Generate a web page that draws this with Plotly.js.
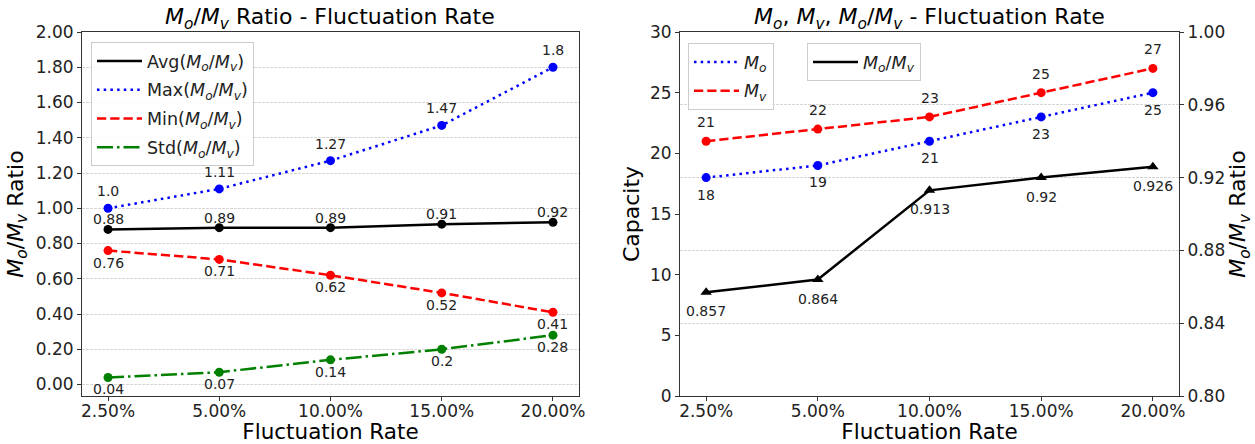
<!DOCTYPE html>
<html>
<head>
<meta charset="utf-8">
<script src="https://cdn.plot.ly/plotly-3.0.1.min.js"></script>
<style>html,body{margin:0;padding:0;background:#fff;}#chart{width:1255px;height:444px;}</style>
</head>
<body>
<div id="chart"></div>
<script>
// ---- data ----
const categories = ['2.50%', '5.00%', '10.00%', '15.00%', '20.00%'];
const avgRatio = [0.88, 0.89, 0.89, 0.91, 0.92];
const maxRatio = [1.0, 1.11, 1.27, 1.47, 1.8];
const minRatio = [0.76, 0.71, 0.62, 0.52, 0.41];
const stdRatio = [0.04, 0.07, 0.14, 0.2, 0.28];
const moCapacity = [18, 19, 21, 23, 25];
const mvCapacity = [21, 22, 23, 25, 27];
const moMvRatio = [0.857, 0.864, 0.913, 0.92, 0.926];
const leftYTicks = [0, 0.2, 0.4, 0.6, 0.8, 1.0, 1.2, 1.4, 1.6, 1.8, 2.0];
const capTicks = [0, 5, 10, 15, 20, 25, 30];
const ratioTicks = [0.80, 0.84, 0.88, 0.92, 0.96, 1.00];

// ---- helpers ----
const FONT = 'DejaVu Sans, Verdana, sans-serif';
const MO = '<i>M<sub>o</sub></i>';
const MV = '<i>M<sub>v</sub></i>';
const RATIO = MO + '/' + MV;
function pyStr(v) { return Number.isInteger(v) ? v.toFixed(1) : String(v); }

// page geometry (px)
const W = 1255, H = 444;
const M = {l: 82, r: 76, t: 32, b: 48};
const PW = W - M.l - M.r, PH = H - M.t - M.b;
const px = x => (x - M.l) / PW;
const py = y => (H - M.b - y) / PH;

const LINE_W = 2.5;
const dotted = '2.5px,4.2px';
const dashed = '9.25px,4px';
const dashdot = '16px,4px,2.5px,4px';

const series = [
  {name: 'Avg(' + RATIO + ')', y: avgRatio, xa: 'x', ya: 'y', lg: 'legend', color: '#000000', dash: 'solid', sym: 'circle'},
  {name: 'Max(' + RATIO + ')', y: maxRatio, xa: 'x', ya: 'y', lg: 'legend', color: '#0000ff', dash: dotted, sym: 'circle'},
  {name: 'Min(' + RATIO + ')', y: minRatio, xa: 'x', ya: 'y', lg: 'legend', color: '#ff0000', dash: dashed, sym: 'circle'},
  {name: 'Std(' + RATIO + ')', y: stdRatio, xa: 'x', ya: 'y', lg: 'legend', color: '#008000', dash: dashdot, sym: 'circle'},
  {name: MO, y: moCapacity, xa: 'x2', ya: 'y2', lg: 'legend2', color: '#0000ff', dash: dotted, sym: 'circle'},
  {name: MV, y: mvCapacity, xa: 'x2', ya: 'y2', lg: 'legend2', color: '#ff0000', dash: dashed, sym: 'circle'},
  {name: RATIO, y: moMvRatio, xa: 'x2', ya: 'y3', lg: 'legend3', color: '#000000', dash: 'solid', sym: 'triangle-up'}
];

const traces = [];
series.forEach((s, k) => {
  traces.push({name: s.name, x: categories, y: s.y, xaxis: s.xa, yaxis: s.ya, legend: s.lg,
    legendgroup: 'g' + k, mode: 'lines', line: {color: s.color, width: LINE_W, dash: s.dash}});
  traces.push({name: s.name, x: categories, y: s.y, xaxis: s.xa, yaxis: s.ya, legend: s.lg,
    legendgroup: 'g' + k, showlegend: false, mode: 'markers',
    marker: {color: s.color, size: s.sym === 'circle' ? 9 : 10, symbol: s.sym}});
});

// value labels
const annotations = [];
function addLabels(vals, fmt, xref, yref, shift) {
  vals.forEach((v, i) => annotations.push({
    x: categories[i], y: v, xref: xref, yref: yref, text: fmt(v), showarrow: false,
    yshift: shift, font: {family: FONT, size: 14, color: '#222222'}
  }));
}
addLabels(avgRatio, pyStr, 'x', 'y', 10);
addLabels(maxRatio, pyStr, 'x', 'y', 17);
addLabels(minRatio, pyStr, 'x', 'y', -12);
addLabels(stdRatio, pyStr, 'x', 'y', -12);
addLabels(moCapacity, String, 'x2', 'y2', -17);
addLabels(mvCapacity, String, 'x2', 'y2', 19);
addLabels(moMvRatio, String, 'x2', 'y3', -19);

// subplot titles
annotations.push({xref: 'paper', yref: 'paper', x: px(330), y: py(19), xanchor: 'center', yanchor: 'middle',
  text: RATIO + ' Ratio - Fluctuation Rate', showarrow: false, font: {family: FONT, size: 22, color: '#000'}});
annotations.push({xref: 'paper', yref: 'paper', x: px(929), y: py(19), xanchor: 'center', yanchor: 'middle',
  text: MO + ', ' + MV + ', ' + RATIO + ' - Fluctuation Rate', showarrow: false, font: {family: FONT, size: 22, color: '#000'}});

const tickFont = {family: FONT, size: 17, color: '#222222'};
const titleFont = {family: FONT, size: 22, color: '#000000'};
const xTitleFont = {family: FONT, size: 21.5, color: '#000000'};
const spine = '#333333';
const gridStyle = {gridcolor: '#cccccc', gridwidth: 0.8, griddash: '2.5px,1.5px'};
const xCommon = {
  type: 'category', range: [-0.234, 4.234], showline: true, linecolor: spine, linewidth: 1, mirror: true,
  ticks: 'outside', ticklen: 4, tickcolor: spine, tickfont: tickFont, showgrid: false, zeroline: false,
  automargin: false, fixedrange: true, ticklabelstandoff: -4
};
const legendCommon = {bgcolor: 'rgba(255,255,255,0.85)', bordercolor: '#cccccc', borderwidth: 1,
  font: {family: FONT, size: 17.5, color: '#222222'}, xanchor: 'left', yanchor: 'top', itemwidth: 45,
  tracegroupgap: 3, itemclick: false, itemdoubleclick: false};

const layout = {
  width: W, height: H, margin: M, paper_bgcolor: '#ffffff', plot_bgcolor: '#ffffff',
  font: {family: FONT},
  xaxis: Object.assign({}, xCommon, {domain: [0, px(579)], anchor: 'y',
    title: {text: 'Fluctuation Rate', font: xTitleFont, standoff: 6}}),
  yaxis: Object.assign({domain: [0, 1], anchor: 'x', range: [-0.065, 2.0], tickvals: leftYTicks,
    tickformat: '.2f', showline: true, linecolor: spine, linewidth: 1, mirror: true, ticks: 'outside',
    ticklen: 4, tickcolor: spine, tickfont: tickFont, showgrid: true, zeroline: false, automargin: false,
    title: {text: RATIO + ' Ratio', font: titleFont, standoff: 6}}, gridStyle),
  xaxis2: Object.assign({}, xCommon, {domain: [px(680), 1], anchor: 'y2',
    title: {text: 'Fluctuation Rate', font: xTitleFont, standoff: 6}}),
  yaxis2: {domain: [0, 1], anchor: 'x2', range: [0, 30], tickvals: capTicks, showline: true,
    linecolor: spine, linewidth: 1, ticks: 'outside', ticklen: 4, tickcolor: spine, tickfont: tickFont,
    showgrid: false, zeroline: false, automargin: false,
    title: {text: 'Capacity', font: titleFont, standoff: 4}},
  yaxis3: Object.assign({overlaying: 'y2', side: 'right', anchor: 'x2', range: [0.8, 1.0], tickvals: ratioTicks,
    tickformat: '.2f', showline: true, linecolor: spine, linewidth: 1, ticks: 'outside', ticklen: 4,
    tickcolor: spine, tickfont: tickFont, showgrid: true, zeroline: false, automargin: false,
    title: {text: RATIO + ' Ratio', font: titleFont, standoff: 4}}, gridStyle),
  legend: Object.assign({}, legendCommon, {x: px(91), y: py(42)}),
  legend2: Object.assign({}, legendCommon, {x: px(688), y: py(43)}),
  legend3: Object.assign({}, legendCommon, {x: px(807), y: py(43)}),
  annotations: annotations,
  showlegend: true
};

Plotly.newPlot('chart', traces, layout, {displayModeBar: false, staticPlot: true});
</script>
</body>
</html>
